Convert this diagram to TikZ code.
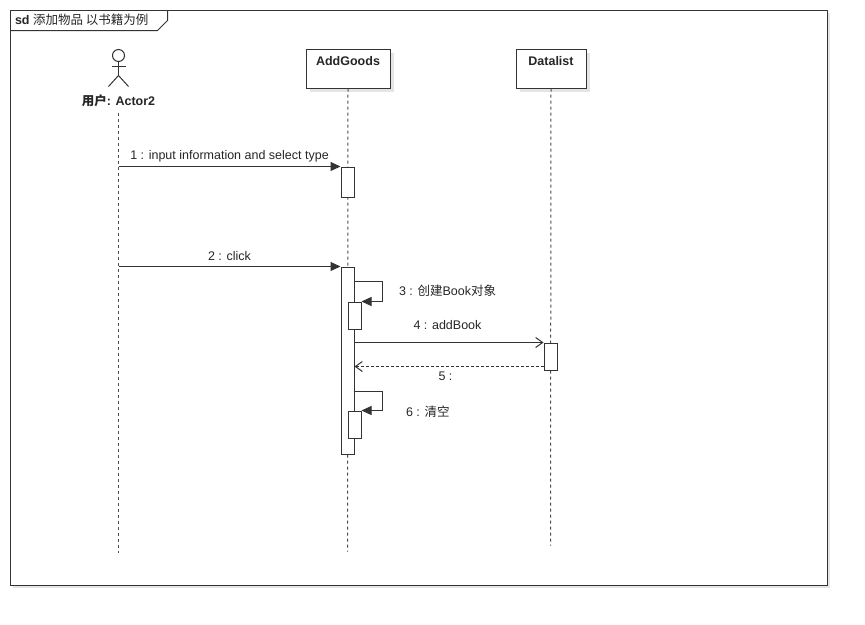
\documentclass[tikz,border=0pt]{standalone}
\usepackage{fontspec}
\setmainfont{Liberation Sans}
\newfontfamily\cjk{Noto Sans CJK SC}
\usetikzlibrary{positioning,arrows.meta}
\tikzset{every path/.style={black!80, line width=1pt}, every node/.style={inner sep=0pt, text=black!85, font=\fontsize{12.5}{14}\selectfont}}
\tikzset{objbox/.style={draw, fill=white, minimum height=39pt, anchor=north west},
 objname/.style={font=\fontsize{12.5}{14}\selectfont\bfseries},
 boxshade/.style={fill=black!10, draw=none},
 lifeline/.style={dash pattern=on 3pt off 3pt, line width=1pt, black!70},
 actbox/.style={draw, fill=white, minimum width=13pt, anchor=north west},
 callmsg/.style={-{Triangle[length=10pt,width=9pt]}},
 asyncmsg/.style={-{Straight Barb[length=7pt,width=10pt]}},
 replymsg/.style={dash pattern=on 3pt off 2pt, -{Straight Barb[length=7pt,width=10pt]}}}

\begin{document}
\begin{tikzpicture}[x=1pt,y=-1pt]
  \useasboundingbox (0,0) rectangle (865,624);
  \fill[white] (0,0) rectangle (865,624);
 \begin{scope}[shift={(0.5,0.5)}]
  % frame
  \fill[boxshade] (12,12) rectangle (829,587);
  \filldraw[fill=white] (10,10) rectangle (827,585);
  \draw (10,30) -- (157,30) -- (167,20) -- (167,10);
  \node[anchor=west] (title) at (14,19.5) {\textbf{sd} {\cjk 添加物品 以书籍为例}};
  % actor
  \draw (118,55) circle (6);
  \draw (118,61) -- (118,75);
  \draw (111,66) -- (125,66);
  \draw (118,75) -- (108,86);
  \draw (118,75) -- (128,86);
  \node[objname] (user) at (118,100) {{\cjk 用户}: Actor2};
  % objects
  \fill[boxshade] (309,52) rectangle (393,91);
  \node[objbox, minimum width=84pt] (addgoods) at (305,48) {};
  \node[objname, below=7pt of addgoods.north] (addgoodsname) {AddGoods};
  \fill[boxshade] (519,52) rectangle (589,91);
  \node[objbox, minimum width=70pt] (datalist) at (515,48) {};
  \node[objname, below=7pt of datalist.north] (datalistname) {Datalist};
  % lifelines
  \coordinate (u0) at (118,112);
  \coordinate (u1) at (118,552);
  \coordinate (g1) at (347,551);
  \coordinate (d1) at (550,545);
  \draw[lifeline] (u0) -- (u1);
  \draw[lifeline] (addgoods.south) -- (g1);
  \draw[lifeline] (datalist.south) -- (d1);
  % activations
  \node[actbox, minimum height=30pt] (act1) at (340,166) {};
  \node[actbox, minimum height=187pt] (act2) at (340,266) {};
  \node[actbox, minimum height=27pt] (act3) at (347,301) {};
  \node[actbox, minimum height=27pt] (act4) at (543,342) {};
  \node[actbox, minimum height=27pt] (act6) at (347,410) {};
  % messages
  \coordinate (m1) at (118,166);
  \coordinate (m2) at (118,266);
  \coordinate (s3) at (353,281);
  \coordinate (r5) at (543,366);
  \coordinate (s6) at (353,391);
  \draw[callmsg] (m1) -- (act1.north west);
  \draw[callmsg] (m2) -- (act2.north west);
  \draw[callmsg] (s3) -- ++(29,0) |- (act3.north east);
  \draw[asyncmsg] (act2.east |- act4.north west) -- (act4.north west);
  \draw[replymsg] (r5) -- (act2.east |- r5);
  \draw[callmsg] (s6) -- ++(29,0) |- (act6.north east);
  \node (l1) at (229,156) {1 : input information and select type};
  \node (l2) at (229,256) {2 : click};
  \node[anchor=west] (l3) at (398,290) {3 : {\cjk 创建}Book{\cjk 对象}};
  \node (l4) at (447,325) {4 : addBook};
  \node (l5) at (445,376) {5 :};
  \node[anchor=west] (l6) at (405,411) {6 : {\cjk 清空}};
 \end{scope}
\end{tikzpicture}
\end{document}
